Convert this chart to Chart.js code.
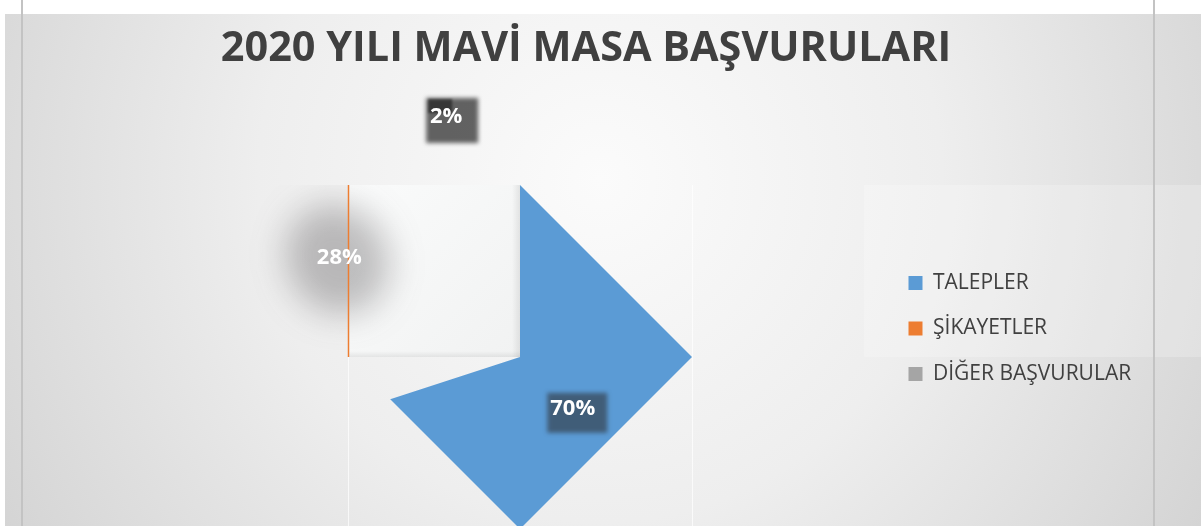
<!DOCTYPE html>
<html lang="tr">
<head>
<meta charset="utf-8">
<title>2020 Yılı Mavi Masa Başvuruları</title>
<script src="https://cdn.jsdelivr.net/npm/chart.js@4.4.1/dist/chart.umd.min.js"></script>
<style>
  html, body { margin: 0; padding: 0; background: #ffffff; }
  #basvuruGrafik { display: block; }
</style>
</head>
<body>
<canvas id="basvuruGrafik" width="1201" height="526"></canvas>
<script>
// Başvuru türleri ve yüzdeleri
const kategoriler = ['TALEPLER', 'ŞİKAYETLER', 'DİĞER BAŞVURULAR'];
const oranlar = [70, 28, 2];

// Lejant kutularının renkleri
const lejantRenkleri = ['#5B9BD5', '#ED7D31', '#A5A5A5'];
// Dilim dolguları: şikayet ve diğer dilimleri dolgusuz kalıyor
const dilimDolgulari = ['#5B9BD5', 'rgba(237,125,49,0)', 'rgba(165,165,165,0)'];

// Etiketlerin dilim ortasına göre yerleşimi (derece sapma, yarıçap katı)
const etiketYerlesim = [
    { aci: 8.5, uzaklik: 0.43 },
    { aci: -3.5, uzaklik: 1.2 },
    { aci: -13.5, uzaklik: 1.46 }
];
// Etiketlerin arkasındaki bulanık gölgeler
const etiketGolgeleri = [
    { dx: 4.5, dy: 4, w: 60, h: 40, blur: 2, renk: 'rgba(50,60,70,0.65)', elips: false },
    { dx: -2, dy: 2, w: 100, h: 112, blur: 17, renk: 'rgba(70,66,70,0.33)', elips: true },
    { dx: 6, dy: 3.5, w: 52, h: 45, blur: 2, renk: 'rgba(40,40,40,0.72)', elips: false,
      koyu: { dx: -6, dy: -11, w: 24, h: 14 } }
];

// Pastanın merkezi ve yarıçapı (Chart.js yayından okunur)
function pastaGeometrisi(chart) {
    const yay = chart.getDatasetMeta(0).data[0];
    return { x: yay.x, y: yay.y, r: yay.outerRadius };
}

// Arka plan: gri geçiş, açık şerit ve kenar çizgileri
const arkaPlan = {
    id: 'arkaPlan',
    beforeDraw(chart) {
        const { ctx, width, height } = chart;
        const { y, r } = pastaGeometrisi(chart);
        ctx.save();
        ctx.fillStyle = '#ffffff';
        ctx.fillRect(0, 0, width, height);

        const g = ctx.createRadialGradient(600, 180, 0, 600, 180, 760);
        g.addColorStop(0, '#fbfbfb');
        g.addColorStop(0.45, '#eeeeee');
        g.addColorStop(1, '#cfcfcf');
        ctx.fillStyle = g;
        ctx.fillRect(5, 14, width - 5, height - 14);

        ctx.fillStyle = 'rgba(255,255,255,0.22)';
        ctx.fillRect(864, y - r, width - 864, r);

        ctx.fillStyle = '#c3c3c3';
        ctx.fillRect(21, 0, 2, height);
        ctx.fillRect(1153, 0, 2, height);
        ctx.restore();
    }
};

// Lejant yazıları kutusunun dışına taşabilsin diye kırpma alanını sağa açar
const lejantAlani = {
    id: 'lejantAlani',
    afterLayout(chart) {
        const lejant = chart.legend;
        lejant.right = chart.width;
        lejant.width = lejant.right - lejant.left;
    }
};

// Dilimleri baklava biçimine kırpar
const baklavaDilim = {
    id: 'baklavaDilim',
    beforeDatasetsDraw(chart) {
        const { ctx, height } = chart;
        const { x, y, r } = pastaGeometrisi(chart);

        // Sol üst çeyrekteki açık kutu
        const g = ctx.createLinearGradient(x - r, y - r, x, y);
        g.addColorStop(0, '#fafbfb');
        g.addColorStop(1, '#f1f2f2');
        ctx.save();
        ctx.fillStyle = g;
        ctx.fillRect(x - r, y - r, r, r);
        const sag = ctx.createLinearGradient(x - 8, 0, x, 0);
        sag.addColorStop(0, 'rgba(0,0,0,0)');
        sag.addColorStop(1, 'rgba(0,0,0,0.08)');
        ctx.fillStyle = sag;
        ctx.fillRect(x - 8, y - r, 8, r);
        const alt = ctx.createLinearGradient(0, y - 6, 0, y);
        alt.addColorStop(0, 'rgba(0,0,0,0)');
        alt.addColorStop(1, 'rgba(0,0,0,0.07)');
        ctx.fillStyle = alt;
        ctx.fillRect(x - r, y - 6, r, 6);

        // Silik dikey çizgiler
        ctx.fillStyle = 'rgba(255,255,255,0.7)';
        ctx.fillRect(x - r, y, 1, height - y);
        ctx.fillRect(x + r, y - r, 1, height - y + r);
        ctx.restore();

        ctx.save();
        ctx.beginPath();
        ctx.moveTo(x, y - r);
        ctx.lineTo(x + r, y);
        ctx.lineTo(x, y + r);
        ctx.lineTo(x - r, y);
        ctx.closePath();
        ctx.clip();
    },
    afterDatasetsDraw(chart) {
        chart.ctx.restore();
    }
};

// Yüzde etiketleri ve gölgeleri
const yuzdeEtiketleri = {
    id: 'yuzdeEtiketleri',
    afterDatasetsDraw(chart) {
        const { ctx, width, height } = chart;
        const meta = chart.getDatasetMeta(0);
        const { x, y, r } = pastaGeometrisi(chart);
        const toplam = oranlar.reduce((a, b) => a + b, 0);

        const konumlar = meta.data.map((yay, i) => {
            const orta = (yay.startAngle + yay.endAngle) / 2 + etiketYerlesim[i].aci * Math.PI / 180;
            const d = r * etiketYerlesim[i].uzaklik;
            return { x: x + Math.cos(orta) * d, y: y + Math.sin(orta) * d };
        });

        konumlar.forEach((k, i) => {
            const gl = etiketGolgeleri[i];
            ctx.save();
            ctx.filter = `blur(${gl.blur}px)`;
            ctx.fillStyle = gl.renk;
            if (gl.elips) {
                // büyük gölge şeridin üst kenarında kesiliyor
                ctx.beginPath();
                ctx.rect(0, y - r, width, height);
                ctx.clip();
                ctx.beginPath();
                ctx.ellipse(k.x + gl.dx, k.y + gl.dy, gl.w / 2, gl.h / 2, -0.5, 0, Math.PI * 2);
                ctx.fill();
            } else {
                ctx.fillRect(k.x + gl.dx - gl.w / 2, k.y + gl.dy - gl.h / 2, gl.w, gl.h);
            }
            if (gl.koyu) {
                ctx.filter = 'blur(1px)';
                ctx.fillStyle = 'rgba(20,20,20,0.55)';
                ctx.fillRect(k.x + gl.koyu.dx - gl.koyu.w / 2, k.y + gl.koyu.dy - gl.koyu.h / 2, gl.koyu.w, gl.koyu.h);
            }
            ctx.restore();
        });

        // Şikayet diliminin kenar çizgisi
        ctx.save();
        ctx.strokeStyle = lejantRenkleri[1];
        ctx.lineWidth = 1.5;
        ctx.beginPath();
        ctx.moveTo(x - r + 0.5, y - r);
        ctx.lineTo(x - r + 0.5, y);
        ctx.stroke();
        ctx.restore();

        ctx.save();
        ctx.font = 'bold 22px "Open Sans"';
        ctx.fillStyle = '#ffffff';
        ctx.textAlign = 'center';
        ctx.textBaseline = 'middle';
        konumlar.forEach((k, i) => {
            ctx.fillText(Math.round(oranlar[i] / toplam * 100) + '%', k.x, k.y);
        });
        ctx.restore();
    }
};

const ctx = document.getElementById('basvuruGrafik').getContext('2d');
new Chart(ctx, {
    type: 'pie',
    data: {
        labels: kategoriler,
        datasets: [{
            data: oranlar,
            backgroundColor: dilimDolgulari,
            borderWidth: 0
        }]
    },
    options: {
        responsive: false,
        animation: false,
        events: [],
        radius: 172,
        layout: { padding: { left: 156, right: 185, top: 0, bottom: 0 } },
        plugins: {
            title: {
                display: true,
                text: '2020 YILI MAVİ MASA BAŞVURULARI',
                color: '#404040',
                font: { family: 'Open Sans', size: 41.4, weight: 'bold', lineHeight: 1.2 },
                padding: { top: 24, bottom: 114.32 }
            },
            legend: {
                position: 'right',
                align: 'start',
                fullSize: false,
                maxWidth: 132,
                title: { display: true, text: '', font: { size: 12 }, padding: { top: 45.6, bottom: 0 } },
                labels: {
                    boxWidth: 14,
                    boxHeight: 14,
                    padding: 24.5,
                    color: '#404040',
                    font: { family: 'Open Sans', size: 21 },
                    generateLabels: chart => chart.data.labels.map((text, i) => ({
                        text: text,
                        fillStyle: lejantRenkleri[i],
                        strokeStyle: lejantRenkleri[i],
                        fontColor: '#404040',
                        lineWidth: 0,
                        hidden: false,
                        index: i
                    }))
                }
            },
            tooltip: { enabled: false }
        }
    },
    plugins: [arkaPlan, lejantAlani, baklavaDilim, yuzdeEtiketleri]
});
</script>
</body>
</html>
